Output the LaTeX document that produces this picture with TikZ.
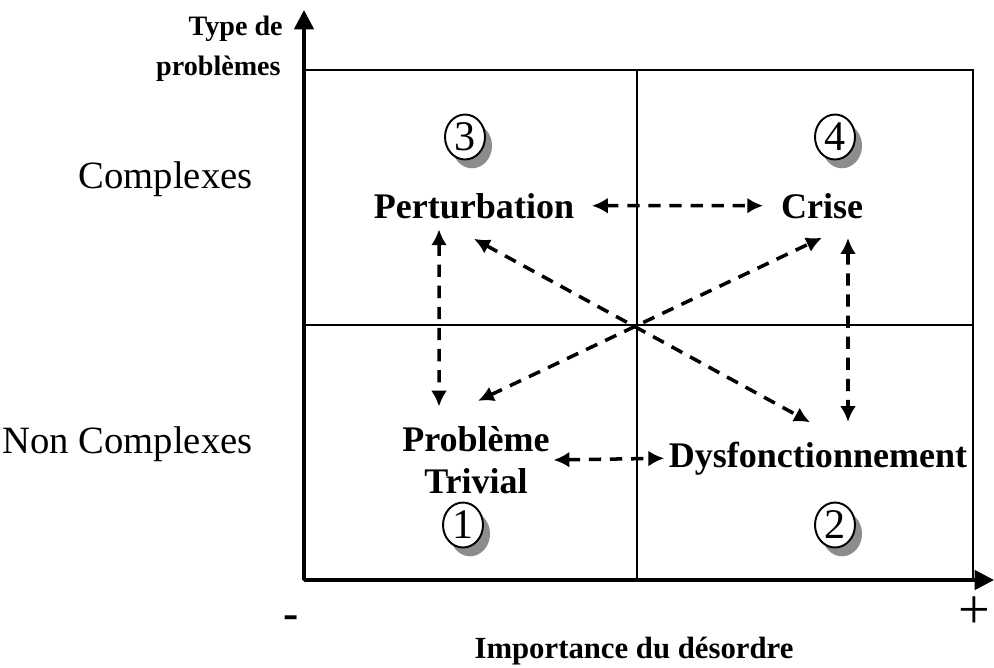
\documentclass[tikz,border=0pt]{standalone}
\usepackage{xcolor}
\usepackage{fontspec}
\setmainfont{Liberation Serif}
\usepackage{tikz}
\usetikzlibrary{arrows.meta,shapes.geometric,shadows}
\definecolor{ink}{HTML}{000000}
\definecolor{shade}{HTML}{8C8C8C}

\begin{document}
\begin{tikzpicture}[x=0.02cm,y=-0.02cm,
  axis/.style={ink,line width=2pt,-{Triangle[length=11pt,width=11pt]}},
  grid/.style={ink,line width=1pt},
  quad/.style={font=\fontsize{20.5}{24}\selectfont\bfseries,inner sep=0pt,align=center},
  side/.style={font=\fontsize{22}{26}\selectfont,inner sep=0pt,anchor=base east},
  title/.style={font=\fontsize{16}{19}\selectfont\bfseries,inner sep=0pt},
  numcirc/.style={ellipse,draw=ink,line width=1.1pt,fill=white,minimum width=0.8cm,minimum height=0.9cm,inner sep=0pt,font=\fontsize{24}{26}\selectfont,drop shadow={shadow xshift=4pt,shadow yshift=-5pt,fill=shade,opacity=1}},
  link/.style={ink,line width=2pt,dash pattern=on 7pt off 5pt,{Latex[length=9pt,width=9pt]}-{Latex[length=9pt,width=9pt]}}]
\useasboundingbox (0,0) rectangle (994,667);
% quadrants
\draw[grid] (304,70) rectangle (973,580);
\draw[grid] (304,325) -- (973,325);
\draw[grid] (637,70) -- (637,580);
% axes
\coordinate (origin) at (304,580);
\coordinate (ytip) at (304,10);
\coordinate (xtip) at (994,580);
\draw[axis] (origin) -- (ytip);
\draw[axis] (origin) -- (xtip);
\node[title,anchor=base east] (ytitle1) at (283,35) {Type de};
\node[title,anchor=base east] (ytitle2) at (281,75) {problèmes};
\node[title,font=\fontsize{17.5}{20}\selectfont\bfseries,anchor=base] (xtitle) at (634,658) {Importance du désordre};
\node[side] (cplx) at (253,188) {Complexes};
\node[side] (noncplx) at (253,453) {Non Complexes};
\node[font=\fontsize{26}{28}\selectfont\bfseries,inner sep=0pt] (minus) at (291,622) {-};
\node[font=\fontsize{32}{36}\selectfont,inner sep=0pt] (plus) at (974,613) {+};
% numbered quadrants
\node[numcirc] (c1) at (463,525) {1};
\node[numcirc] (c2) at (835,525) {2};
\node[numcirc] (c3) at (465,137) {3};
\node[numcirc] (c4) at (835,137) {4};
% states
\node[quad,anchor=base] (pert) at (474,218) {Perturbation};
\node[quad,anchor=base] (crise) at (822,218) {Crise};
\node[quad] (triv) at (476,460) {Problème\\Trivial};
\node[quad,anchor=base] (dysf) at (818,467) {Dysfonctionnement};
% transitions
\draw[link,shorten <=10pt,shorten >=10pt] (pert.east) -- (crise.west);
\draw[link,shorten <=2pt,shorten >=2.5pt] (triv.east) -- (dysf.west);
\draw[link,shorten <=6pt,shorten >=11pt] ([xshift=-0.7cm]pert.south) -- ([xshift=-0.74cm]triv.north);
\draw[link,shorten <=11pt,shorten >=11pt] ([xshift=0.52cm]crise.south) -- ([xshift=0.6cm]dysf.north);
\draw[link] ([yshift=-0.4cm]pert.south) -- ([xshift=-0.16cm,yshift=0.38cm]dysf.north);
\draw[link] ([xshift=0.04cm,yshift=0.5cm]triv.north) -- ([yshift=-0.38cm]crise.south);
\end{tikzpicture}
\end{document}
